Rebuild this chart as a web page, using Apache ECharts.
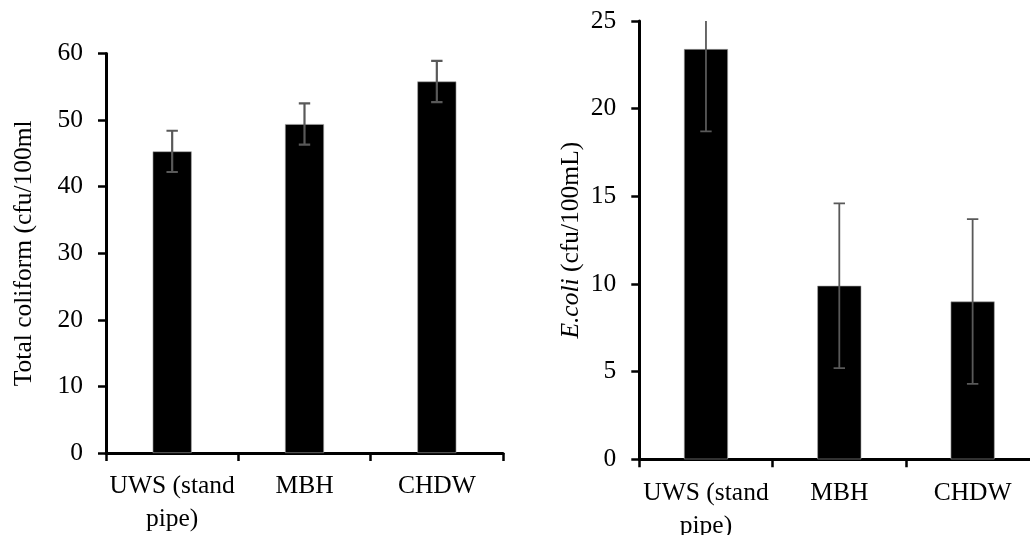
<!DOCTYPE html>
<html>
<head>
<meta charset="utf-8">
<script src="https://cdn.jsdelivr.net/npm/echarts@6/dist/echarts.min.js"></script>
<style>
  html, body { margin: 0; padding: 0; background: #fff; }
  #chart { width: 1030px; height: 535px; }
</style>
</head>
<body>
<div id="chart"></div>
<script>
// ---- data ----
const categories = ['UWS (stand\npipe)', 'MBH', 'CHDW'];
const coliformMeans = [45.3, 49.4, 55.8];
const coliformErr = [3.1, 3.1, 3.1];
const ecoliMeans = [23.4, 9.9, 9.0];
const ecoliErr = [4.7, 4.7, 4.7];
const coliformAxis = { min: 0, max: 60, interval: 10 };
const ecoliAxis = { min: 0, max: 25, interval: 5 };

const FONT = '"Liberation Serif", "Times New Roman", serif';
const FS = 25.5;
const chart = echarts.init(document.getElementById('chart'), null, { renderer: 'canvas' });

function errData(means, errs) {
  return means.map((m, i) => [i, m - errs[i], m + errs[i]]);
}
function errRender(capHalf, lw) {
  return function (params, api) {
    const x = api.value(0);
    const lo = api.coord([x, api.value(1)]);
    const hi = api.coord([x, api.value(2)]);
    const style = { stroke: '#595959', lineWidth: lw };
    return {
      type: 'group',
      children: [
        { type: 'line', shape: { x1: lo[0], y1: lo[1], x2: hi[0], y2: hi[1] }, style },
        { type: 'line', shape: { x1: lo[0] - capHalf, y1: lo[1], x2: lo[0] + capHalf, y2: lo[1] }, style },
        { type: 'line', shape: { x1: hi[0] - capHalf, y1: hi[1], x2: hi[0] + capHalf, y2: hi[1] }, style }
      ]
    };
  };
}

const axisLine = { show: true, lineStyle: { color: '#000', width: 3 } };
const axisTick = { show: true, length: 8, lineStyle: { color: '#000', width: 2.5 } };
const labelStyle = { color: '#000', fontFamily: FONT, fontSize: FS };

function xAxis(gridIndex) {
  return {
    type: 'category', gridIndex, data: categories,
    axisLine, axisTick: Object.assign({}, axisTick, { alignWithLabel: false }),
    axisLabel: Object.assign({}, labelStyle, { interval: 0, margin: 17, lineHeight: 33 }),
    splitLine: { show: false }
  };
}
function yAxis(gridIndex, ax, name, gap, rich) {
  return {
    type: 'value', gridIndex, min: ax.min, max: ax.max, interval: ax.interval,
    axisLine, axisTick,
    axisLabel: Object.assign({}, labelStyle, { margin: 23 }),
    splitLine: { show: false },
    name, nameLocation: 'middle', nameRotate: 90, nameGap: gap,
    nameTextStyle: Object.assign({}, labelStyle, rich ? { rich } : {})
  };
}

chart.setOption({
  animation: false,
  backgroundColor: '#fff',
  grid: [
    { left: 106, top: 53.5, width: 397, height: 399.5, outerBoundsMode: 'none', containLabel: false },
    { left: 639.3, top: 21, width: 400, height: 438.3, outerBoundsMode: 'none', containLabel: false }
  ],
  xAxis: [xAxis(0), xAxis(1)],
  yAxis: [
    yAxis(0, coliformAxis, 'Total coliform (cfu/100ml', 69),
    yAxis(1, ecoliAxis, '{i|E.coli} (cfu/100mL)', 55,
      { i: { fontStyle: 'italic', fontFamily: FONT, fontSize: FS, color: '#000' } })
  ],
  series: [
    {
      type: 'bar', xAxisIndex: 0, yAxisIndex: 0, data: coliformMeans, barWidth: 39,
      itemStyle: { color: '#000', borderColor: '#a6a6a6', borderWidth: 0.6 }, silent: true
    },
    {
      type: 'custom', xAxisIndex: 0, yAxisIndex: 0, data: errData(coliformMeans, coliformErr),
      renderItem: errRender(5.7, 2.2), clip: true, silent: true, z: 5
    },
    {
      type: 'bar', xAxisIndex: 1, yAxisIndex: 1, data: ecoliMeans, barWidth: 44,
      itemStyle: { color: '#000', borderColor: '#a6a6a6', borderWidth: 0.6 }, silent: true
    },
    {
      type: 'custom', xAxisIndex: 1, yAxisIndex: 1, data: errData(ecoliMeans, ecoliErr),
      renderItem: errRender(5.7, 1.8), clip: true, silent: true, z: 5
    }
  ]
});
</script>
</body>
</html>
